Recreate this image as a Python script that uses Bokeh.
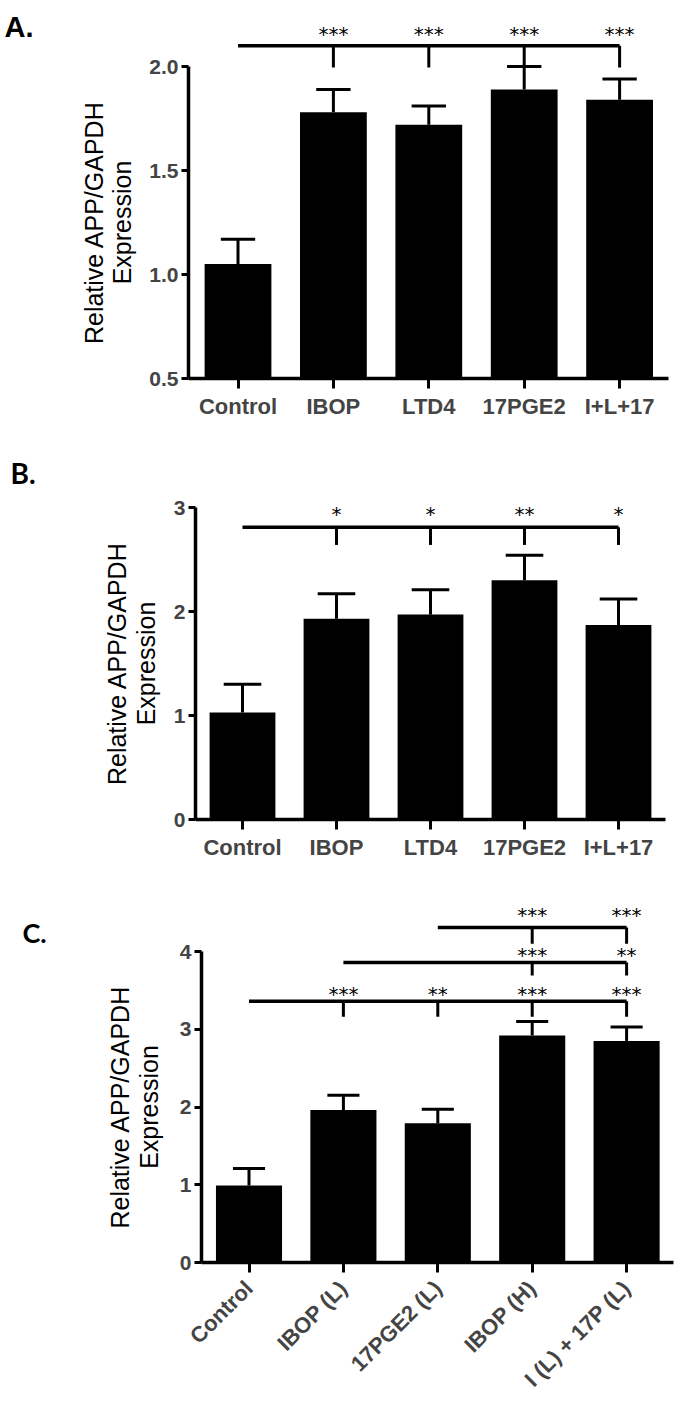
import math
from bokeh.plotting import figure
from bokeh.models import Range1d, FixedTicker, NumeralTickFormatter
from bokeh.layouts import column
from bokeh.embed import file_html
from bokeh.resources import INLINE
from bokeh.core.properties import value

# ---------------- data ----------------
cats_ab = ["Control", "IBOP", "LTD4", "17PGE2", "I+L+17"]
cats_c = ["Control", "IBOP (L)", "17PGE2 (L)", "IBOP (H)", "I (L) + 17P (L)"]

a_mean = [1.05, 1.78, 1.72, 1.89, 1.84]
a_sem = [0.12, 0.11, 0.09, 0.11, 0.10]
b_mean = [1.03, 1.93, 1.97, 2.30, 1.87]
b_sem = [0.27, 0.24, 0.24, 0.24, 0.25]
c_mean = [0.99, 1.96, 1.79, 2.92, 2.85]
c_sem = [0.22, 0.19, 0.18, 0.18, 0.18]

a_yticks = [0.5, 1.0, 1.5, 2.0]
b_yticks = [0, 1, 2, 3]
c_yticks = [0, 1, 2, 3, 4]

y_label_lines = ["Relative APP/GAPDH", "Expression"]

# significance brackets: (start idx, end idx, line y, drop y, star y, targets, stars)
a_brackets = [(0, 4, 2.10, 1.995, 2.17, [1, 2, 3, 4], ["***", "***", "***", "***"])]
b_brackets = [(0, 4, 2.81, 2.64, 2.97, [1, 2, 3, 4], ["*", "*", "**", "*"])]
c_brackets = [
    (0, 4, 3.36, 3.16, 3.49, [1, 2, 3, 4], ["***", "**", "***", "***"]),
    (1, 4, 3.86, 3.69, 3.99, [3, 4], ["***", "**"]),
    (2, 4, 4.31, 4.10, 4.51, [3, 4], ["***", "***"]),
]

# ---------------- layout (pixels) ----------------
W = 675
FONT = "Liberation Sans"
geom_a = dict(height=420, axis_px=188, ctrl_px=237.5, ppu_x=95.4, end_px=668,
              base_px=378, ppu_y=208, ylab_px=(93, 121), letter_px=(4, 26),
              xlab_standoff=5)
geom_b = dict(height=450, axis_px=195, ctrl_px=242, ppu_x=94, end_px=665,
              base_px=399, ppu_y=104, ylab_px=(116, 145), letter_px=(10, 52),
              xlab_standoff=5)
geom_c = dict(height=537, axis_px=201, ctrl_px=248.5, ppu_x=94.4, end_px=673,
              base_px=392, ppu_y=77.75, ylab_px=(119, 148), letter_px=(22, 62),
              xlab_standoff=12)


def make_panel(cats, means, sems, yticks, yfmt, g, cap, brackets, letter,
               letter_font, letter_size, rotate):
    ppu_x, ppu_y = g["ppu_x"], g["ppu_y"]
    axis_loc = -(g["ctrl_px"] - g["axis_px"]) / ppu_x
    x0 = axis_loc - g["axis_px"] / ppu_x
    x1 = x0 + W / ppu_x
    ymin = yticks[0]
    y1 = ymin + g["base_px"] / ppu_y
    y0 = ymin - (g["height"] - g["base_px"]) / ppu_y

    def X(px):
        return x0 + px / ppu_x

    def Y(py):
        return y1 - py / ppu_y

    p = figure(width=W, height=g["height"], x_range=Range1d(x0, x1),
               y_range=Range1d(y0, y1), output_backend="svg", toolbar_location=None,
               min_border=0, min_border_left=0, min_border_right=0, min_border_top=0,
               min_border_bottom=0)
    p.outline_line_color = None
    p.xgrid.visible = False
    p.ygrid.visible = False

    x = list(range(len(cats)))
    p.vbar(x=x, top=means, bottom=ymin, width=0.7, fill_color="black", line_color=None)
    tops = [m + s for m, s in zip(means, sems)]
    p.segment(x0=x, y0=means, x1=x, y1=tops, line_width=3, line_color="black")
    p.segment(x0=[i - cap for i in x], y0=tops, x1=[i + cap for i in x], y1=tops,
              line_width=3, line_color="black")

    for (s, e, ly, dy, sy, targets, stars) in brackets:
        p.segment(x0=[s], y0=[ly], x1=[e], y1=[ly], line_width=3.5, line_color="black")
        p.segment(x0=targets, y0=[ly] * len(targets), x1=targets, y1=[dy] * len(targets),
                  line_width=3, line_color="black")
        p.text(x=targets, y=[sy] * len(targets), text=stars, text_align="center",
               text_baseline="alphabetic", y_offset=3,
               text_font=value("DejaVu Sans"), text_font_size="20px", text_color="black")

    # x axis, drawn at the baseline inside the frame
    xa = p.xaxis[0]
    xa.fixed_location = ymin
    xa.ticker = FixedTicker(ticks=x)
    xa.major_label_overrides = {i: c for i, c in enumerate(cats)}
    xa.bounds = (axis_loc, X(g["end_px"]))
    xa.axis_line_width = 3.5
    xa.major_tick_line_width = 3
    xa.major_tick_out = 10
    xa.major_tick_in = 0
    xa.minor_tick_line_color = None
    xa.major_label_text_font = FONT
    xa.major_label_text_font_style = "bold"
    xa.major_label_text_font_size = "22px"
    xa.major_label_standoff = g["xlab_standoff"]
    if rotate:
        xa.major_label_orientation = math.pi / 4

    # y axis, drawn at a fixed x location inside the frame
    ya = p.yaxis[0]
    ya.fixed_location = axis_loc
    ya.ticker = FixedTicker(ticks=yticks)
    ya.formatter = NumeralTickFormatter(format=yfmt)
    ya.bounds = (yticks[0], yticks[-1])
    ya.axis_line_width = 3.5
    ya.major_tick_line_width = 3
    ya.major_tick_out = 7
    ya.major_tick_in = 0
    ya.minor_tick_line_color = None
    ya.major_label_text_font = FONT
    ya.major_label_text_font_style = "bold"
    ya.major_label_text_font_size = "21px"
    ya.major_label_standoff = 3

    # axis title, two lines, centred on the axis span
    ymid = (yticks[0] + yticks[-1]) / 2
    p.text(x=[X(px) for px in g["ylab_px"]], y=[ymid, ymid], text=y_label_lines,
           angle=math.pi / 2, text_align="center", text_baseline="middle",
           text_font=value(FONT), text_font_size="25px", text_color="black")

    # panel letter
    lx, ly = g["letter_px"]
    p.text(x=[X(lx)], y=[Y(ly)], text=[letter], text_align="left",
           text_baseline="alphabetic", text_font=value(letter_font),
           text_font_style="bold", text_font_size=letter_size, text_color="black")
    return p


pa = make_panel(cats_ab, a_mean, a_sem, a_yticks, "0.0", geom_a, 0.18, a_brackets,
                "A.", FONT, "29px", False)
pb = make_panel(cats_ab, b_mean, b_sem, b_yticks, "0", geom_b, 0.2, b_brackets,
                "B.", "Lato", "28px", False)
pc = make_panel(cats_c, c_mean, c_sem, c_yticks, "0", geom_c, 0.17, c_brackets,
                "C.", "Lato", "27px", True)

layout = column(pa, pb, pc, spacing=0)
open("out.html", "w").write(file_html(layout, INLINE))
